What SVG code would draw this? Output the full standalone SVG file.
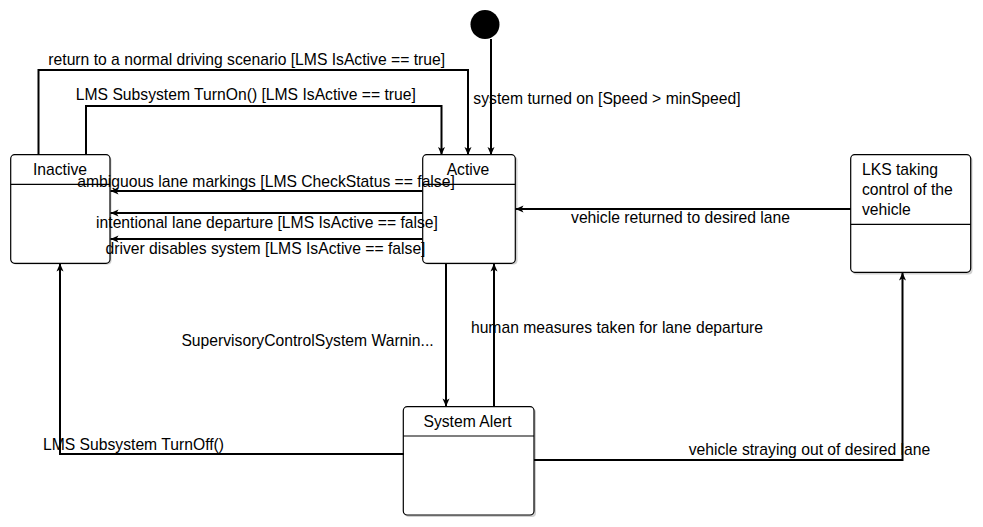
<svg xmlns="http://www.w3.org/2000/svg" width="983" height="527" viewBox="0 0 983 527">
<defs>
<marker id="arr" markerUnits="userSpaceOnUse" markerWidth="10" markerHeight="10" viewBox="0 0 10 10" refX="9" refY="5" orient="auto">
<path d="M1,1.5 L9,5 L1,8.5 L3,5 z" fill="#000"/>
</marker>
</defs>
<style>
text{font-family:"Liberation Sans",Arial,sans-serif;font-size:15.7px;fill:#000}
.st{fill:#fff;stroke:#000;stroke-width:1.2}
.sh{fill:#d0d0d0;stroke:none}
.dv{stroke:#000;stroke-width:1.2}
.c{fill:none;stroke:#000;stroke-width:2;marker-end:url(#arr)}
.m{text-anchor:middle}
</style>
<rect width="983" height="527" fill="#fff"/>
<g id="initial">
<circle cx="485" cy="24.5" r="14.5" fill="#000"/>
</g>
<g id="inactive">
<rect class="sh" x="12.5" y="156.5" width="99" height="108" rx="4"/>
<rect class="st" x="10.7" y="154.7" width="99.3" height="108.6" rx="4"/>
<line class="dv" x1="10.7" y1="184.3" x2="110" y2="184.3"/>
<text class="m" x="60" y="175">Inactive</text>
</g>
<g id="active">
<rect class="sh" x="424.5" y="156.5" width="93" height="108" rx="4"/>
<rect class="st" x="422.7" y="154.7" width="92.6" height="108.6" rx="4"/>
<line class="dv" x1="422.7" y1="184.3" x2="515.3" y2="184.3"/>
<text class="m" x="468" y="175">Active</text>
</g>
<g id="lks">
<rect class="sh" x="852.5" y="156.5" width="120" height="118" rx="4"/>
<rect class="st" x="850.7" y="154.7" width="120" height="117.6" rx="4"/>
<line class="dv" x1="850.7" y1="224.3" x2="970.7" y2="224.3"/>
<text x="862" y="175">LKS taking</text>
<text x="862" y="195">control of the</text>
<text x="862" y="214.5">vehicle</text>
</g>
<g id="alert">
<rect class="sh" x="405" y="408.5" width="131" height="108.5" rx="4"/>
<rect class="st" x="403.3" y="406.7" width="130.7" height="108.3" rx="4"/>
<line class="dv" x1="403.3" y1="436" x2="534" y2="436"/>
<text class="m" x="467.5" y="427">System Alert</text>
</g>
<g id="connectors">
<path class="c" d="M491,39 V155"/>
<path class="c" d="M38.5,155 V70 H468 V155"/>
<path class="c" d="M86,155 V106 H441.5 V155"/>
<path class="c" d="M422.5,191 H110.5"/>
<path class="c" d="M422.5,213 H110.5"/>
<path class="c" d="M422.5,239 H110.5"/>
<path class="c" d="M851,209 H515.5"/>
<path class="c" d="M446,263.5 V406.5"/>
<path class="c" d="M494,406.5 V263.5"/>
<path class="c" d="M404,454 H60 V263.5"/>
<path class="c" d="M534,460 H902.5 V272.5"/>
<text class="m" x="246.7" y="65">return to a normal driving scenario [LMS IsActive == true]</text>
<text class="m" x="245.8" y="99.5">LMS Subsystem TurnOn() [LMS IsActive == true]</text>
<text class="m" x="607" y="104">system turned on [Speed &gt; minSpeed]</text>
<text class="m" x="266" y="187">ambiguous lane markings [LMS CheckStatus == false]</text>
<text class="m" x="267" y="227.5">intentional lane departure [LMS IsActive == false]</text>
<text class="m" x="265.5" y="254">driver disables system [LMS IsActive == false]</text>
<text class="m" x="680.5" y="223">vehicle returned to desired lane</text>
<text class="m" x="307.5" y="346">SupervisoryControlSystem Warnin...</text>
<text class="m" x="617" y="333">human measures taken for lane departure</text>
<text class="m" x="133.5" y="450">LMS Subsystem TurnOff()</text>
<text class="m" x="809.5" y="455">vehicle straying out of desired lane</text>
</g>
</svg>
